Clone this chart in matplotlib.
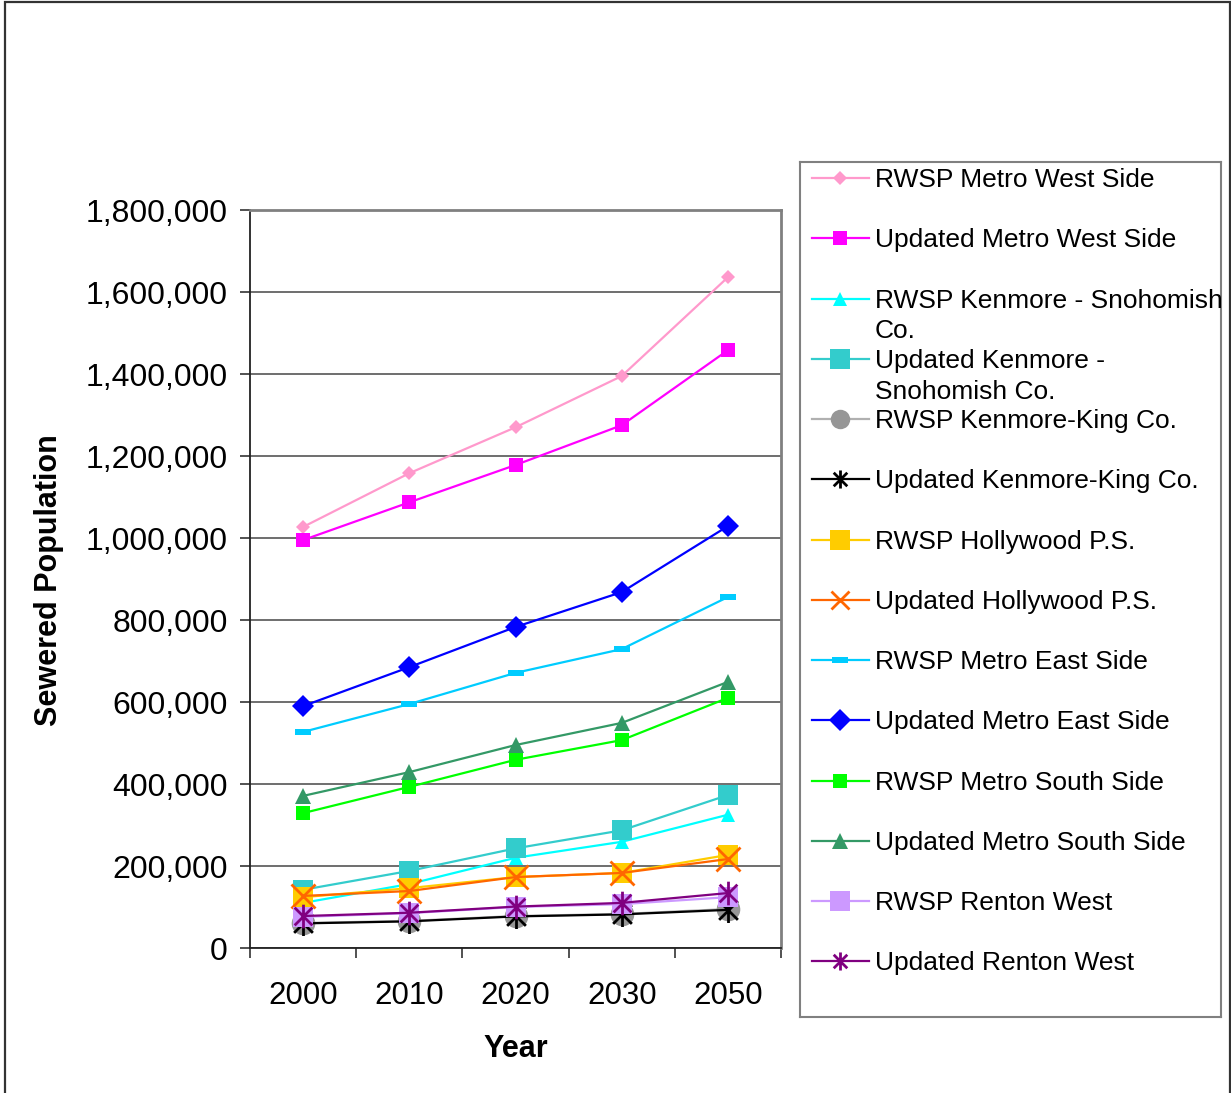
import numpy as np
import matplotlib.pyplot as plt
from matplotlib.path import Path
from matplotlib.patches import Rectangle
from matplotlib.ticker import FuncFormatter, FixedLocator

plt.rcParams['font.family'] = ['Liberation Sans', 'DejaVu Sans']

# ---------------------------------
# Sewered population by service area
# ---------------------------------
years = ['2000', '2010', '2020', '2030', '2050']

rwsp_metro_west = [1027000, 1158000, 1270000, 1395000, 1636000]
upd_metro_west = [995000, 1087000, 1178000, 1275000, 1458000]
rwsp_kenmore_sno = [110000, 156000, 220000, 259000, 325000]
upd_kenmore_sno = [142000, 188000, 243000, 287000, 373000]
rwsp_kenmore_king = [61000, 66000, 78000, 83000, 95000]
upd_kenmore_king = [60000, 65000, 77000, 82000, 93000]
rwsp_hollywood = [124000, 146000, 173000, 183000, 227000]
upd_hollywood = [127000, 139000, 173000, 183000, 217000]
rwsp_metro_east = [527000, 595000, 671000, 729000, 856000]
upd_metro_east = [590000, 685000, 783000, 868000, 1029000]
rwsp_metro_south = [329000, 393000, 459000, 507000, 610000]
upd_metro_south = [371000, 429000, 495000, 549000, 649000]
rwsp_renton_west = [76000, 85000, 100000, 107000, 124000]
upd_renton_west = [78000, 86000, 101000, 110000, 134000]

labels = ['RWSP Metro West Side', 'Updated Metro West Side',
          'RWSP Kenmore - Snohomish\nCo.', 'Updated Kenmore -\nSnohomish Co.',
          'RWSP Kenmore-King Co.', 'Updated Kenmore-King Co.',
          'RWSP Hollywood P.S.', 'Updated Hollywood P.S.',
          'RWSP Metro East Side', 'Updated Metro East Side',
          'RWSP Metro South Side', 'Updated Metro South Side',
          'RWSP Renton West', 'Updated Renton West']

series = [rwsp_metro_west, upd_metro_west, rwsp_kenmore_sno, upd_kenmore_sno,
          rwsp_kenmore_king, upd_kenmore_king, rwsp_hollywood, upd_hollywood,
          rwsp_metro_east, upd_metro_east, rwsp_metro_south, upd_metro_south,
          rwsp_renton_west, upd_renton_west]

# Excel-style star: vertical bar plus an X
star = Path([(0, -1), (0, 1), (-0.75, -0.75), (0.75, 0.75), (-0.75, 0.75), (0.75, -0.75)],
            [Path.MOVETO, Path.LINETO] * 3)
# short flat bar marker
dash = Path([(-1, -0.35), (1, -0.35), (1, 0.35), (-1, 0.35), (-1, -0.35)])

# (line colour, marker, marker colour, marker size, filled)
styles = [
    ('#FF99CC', 'D', '#FF99CC', 7.5, True),
    ('#FF00FF', 's', '#FF00FF', 9.5, True),
    ('#00FFFF', '^', '#00FFFF', 9.5, True),
    ('#33CCCC', 's', '#33CCCC', 14, True),
    ('#B0B0B0', 'o', '#969696', 17, True),
    ('#000000', star, '#000000', 18, False),
    ('#FFCC00', 's', '#FFCC00', 14, True),
    ('#FF6600', 'x', '#FF6600', 17, False),
    ('#00CCFF', dash, '#00CCFF', 12, True),
    ('#0000FF', 'D', '#0000FF', 11, True),
    ('#00FF00', 's', '#00FF00', 10, True),
    ('#339966', '^', '#339966', 11, True),
    ('#CC99FF', 's', '#CC99FF', 14.5, True),
    ('#800080', star, '#800080', 17, False),
]
legend_ms = [7.5, 9.5, 9.5, 14, 14, 13, 14, 13, 12, 11, 10, 11, 14, 13]

W, H = 1231, 1093


def px_rect(x0, y0, x1, y1):
    return [x0 / W, 1 - y1 / H, (x1 - x0) / W, (y1 - y0) / H]


def line_kw(st):
    lc, mk, mc, ms, filled = st
    kw = dict(color=lc, lw=1.6, marker=mk, ms=ms, mec=mc)
    if filled:
        kw.update(mfc=mc, mew=0)
    else:
        kw.update(mfc='none', mew=2)
    return kw


fig = plt.figure(figsize=(W / 100, H / 100), dpi=100)

ax = fig.add_axes(px_rect(250, 210, 781, 948))
x = np.arange(len(years))
for vals, st in zip(series, styles):
    ax.plot(x, vals, **line_kw(st))

ax.set_xlim(-0.5, len(years) - 0.5)
ax.set_ylim(0, 1800000)
ax.set_yticks(np.arange(0, 1800001, 200000))
ax.yaxis.set_major_formatter(FuncFormatter(lambda v, _: f'{v:,.0f}'))
ax.set_xticks(x)
ax.set_xticklabels(years)
ax.xaxis.set_minor_locator(FixedLocator(np.arange(-0.5, len(years), 1.0)))
ax.tick_params(axis='x', which='major', length=0, pad=24, labelsize=22.5)
ax.tick_params(axis='x', which='minor', length=7, width=1.2, color='#333333')
ax.tick_params(axis='y', length=7, width=1.2, color='#333333', pad=9, labelsize=23)
ax.grid(axis='y', color='#555555', lw=1.2)
ax.set_axisbelow(True)
for s in ['left', 'bottom']:
    ax.spines[s].set_color('#222222')
    ax.spines[s].set_linewidth(1.3)
for s in ['top', 'right']:
    ax.spines[s].set_color('#808080')
    ax.spines[s].set_linewidth(2)

fig.text(49 / W, 1 - 580 / H, 'Sewered Population', rotation=90, fontsize=22,
         fontweight='bold', ha='center', va='center')
fig.text(516 / W, 1 - 1049 / H, 'Year', fontsize=22, fontweight='bold',
         ha='center', va='center')

# legend panel, drawn in pixel units
lg = fig.add_axes(px_rect(800, 162, 1221, 1017))
lg.set_xlim(800, 1221)
lg.set_ylim(1017, 162)
lg.set_xticks([])
lg.set_yticks([])
for s in lg.spines.values():
    s.set_color('#808080')
    s.set_linewidth(1.5)

row_y = 178
for lab, st, lms in zip(labels, styles, legend_ms):
    kw = line_kw(st)
    lg.plot([812, 869], [row_y, row_y], color=kw['color'], lw=kw['lw'])
    kw['ms'] = lms
    lg.plot([840], [row_y], ls='none', **{k: v for k, v in kw.items() if k not in ('color', 'lw')})
    for i, part in enumerate(lab.split('\n')):
        lg.text(875, row_y + 2 + i * 31, part, fontsize=19, ha='left', va='center')
    row_y += 60.25

# outer frame around the whole chart
fig.patches.append(Rectangle((4.5 / W, -0.01), (1230 - 4.5) / W, 1.01 - 1.5 / H,
                             transform=fig.transFigure, fill=False,
                             ec='#333333', lw=1.6))

fig.savefig('out.png', dpi=100)
